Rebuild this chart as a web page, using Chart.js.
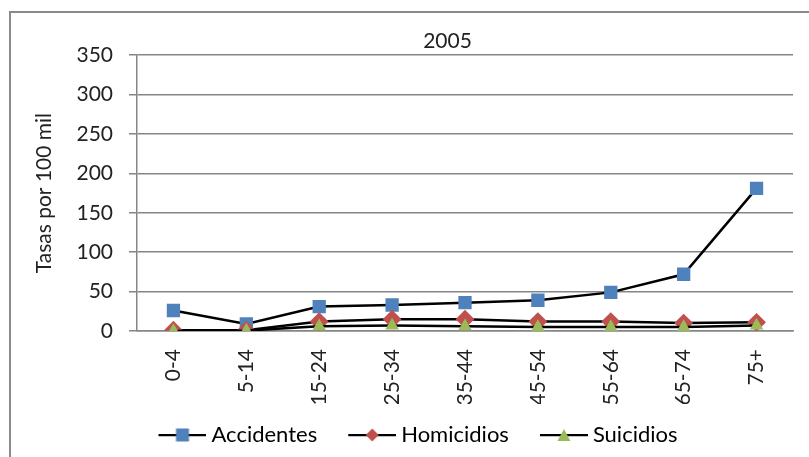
<!DOCTYPE html>
<html>
<head>
<meta charset="utf-8">
<script src="https://cdn.jsdelivr.net/npm/chart.js@4.4.1/dist/chart.umd.min.js"></script>
<style>
  html, body { margin: 0; padding: 0; background: #fff; overflow: hidden; }
  .frame {
    position: absolute; left: 9px; top: 11px; width: 900px; height: 500px;
    border-left: 2px solid #8a8a8a; border-top: 2px solid #8a8a8a;
  }
  #chart { position: absolute; left: 0; top: 0; }
</style>
</head>
<body>
<div class="frame"></div>
<canvas id="chart" width="809" height="457"></canvas>
<script>
// data
const ageGroups = ["0-4", "5-14", "15-24", "25-34", "35-44", "45-54", "55-64", "65-74", "75+"];
const accidentes = [26, 9, 31, 33, 36, 39, 49, 72, 181];
const homicidios = [1, 1, 12, 15, 15, 12, 12, 10, 11];
const suicidios = [0, 0.5, 6, 7, 6, 5, 5, 5, 7];
const yTicks = [0, 50, 100, 150, 200, 250, 300, 350];

const FONT = "Lato";
const GRID = "#868686";

// "line + marker" images for the legend (left part is blank spacing)
const legendIcon = (style, color) => {
  const c = document.createElement("canvas");
  c.width = 65;
  c.height = 16;
  const x = c.getContext("2d");
  x.strokeStyle = "#000";
  x.lineWidth = 2.25;
  x.beginPath();
  x.moveTo(17, 8);
  x.lineTo(65, 8);
  x.stroke();
  x.fillStyle = color;
  x.beginPath();
  const m = 41;
  if (style === "rect") {
    x.rect(m - 6.5, 1.5, 13, 13);
  } else if (style === "rectRot") {
    x.moveTo(m, 1.5); x.lineTo(m + 6.5, 8); x.lineTo(m, 14.5); x.lineTo(m - 6.5, 8);
  } else {
    x.moveTo(m, 2); x.lineTo(m + 6.5, 14); x.lineTo(m - 6.5, 14);
  }
  x.closePath();
  x.fill();
  return c;
};

const series = [
  { label: "Accidentes", data: accidentes, color: "#4F81BD", style: "rect", order: 3 },
  { label: "Homicidios", data: homicidios, color: "#C0504D", style: "rectRot", order: 2 },
  { label: "Suicidios", data: suicidios, color: "#9BBB59", style: "triangle", order: 1 },
];

// move title / legend centres to where the original has them
const shiftBlocks = {
  id: "shiftBlocks",
  afterLayout(chart) {
    const t = chart.titleBlock;
    t.left += 46; t.right += 46;
    const l = chart.legend;
    l.left += 11; l.right += 11;
  },
};

new Chart(document.getElementById("chart"), {
  type: "line",
  data: {
    labels: ageGroups,
    datasets: series.map((s) => ({
      label: s.label,
      data: s.data,
      order: s.order,
      borderColor: "#000",
      borderWidth: 2.5,
      pointStyle: s.style,
      pointRadius: s.style === "triangle" ? 7.8 : 9.4,
      pointBackgroundColor: s.color,
      pointBorderColor: s.color,
      pointBorderWidth: 0,
      tension: 0,
    })),
  },
  options: {
    responsive: false,
    animation: false,
    layout: { padding: { left: 10, right: 16, top: 12, bottom: 1 } },
    plugins: {
      tooltip: { enabled: false },
      title: {
        display: true,
        text: "2005",
        color: "#222",
        font: { family: FONT, size: 21, weight: "normal" },
        padding: { top: 17, bottom: 1 },
      },
      legend: {
        position: "bottom",
        labels: {
          color: "#222",
          font: { family: FONT, size: 22 },
          usePointStyle: true,
          pointStyleWidth: 53,
          padding: 20,
          generateLabels: () =>
            series.map((s, i) => ({
              text: s.label,
              pointStyle: legendIcon(s.style, s.color),
              fillStyle: s.color,
              strokeStyle: s.color,
              lineWidth: 0,
              datasetIndex: i,
            })),
        },
      },
    },
    scales: {
      x: {
        offset: true,
        grid: { display: false },
        border: { color: GRID, width: 1.5 },
        afterFit: (scale) => { scale.height = 73; },
        ticks: {
          color: "#222",
          font: { family: FONT, size: 21 },
          minRotation: 90,
          maxRotation: 90,
          padding: 10,
          autoSkip: false,
        },
      },
      y: {
        min: 0,
        max: 350,
        afterFit: (scale) => { scale.width = 127; },
        afterBuildTicks: (scale) => { scale.ticks = yTicks.map((v) => ({ value: v })); },
        grid: { color: GRID, lineWidth: 1.5, tickLength: 8 },
        border: { color: GRID, width: 1.5 },
        ticks: {
          color: "#222",
          font: { family: FONT, size: 21 },
          padding: 16,
        },
        title: {
          display: true,
          text: "Tasas por 100 mil",
          color: "#222",
          font: { family: FONT, size: 21 },
          padding: { top: 22, bottom: 0 },
        },
      },
    },
  },
  plugins: [shiftBlocks],
});
</script>
</body>
</html>
